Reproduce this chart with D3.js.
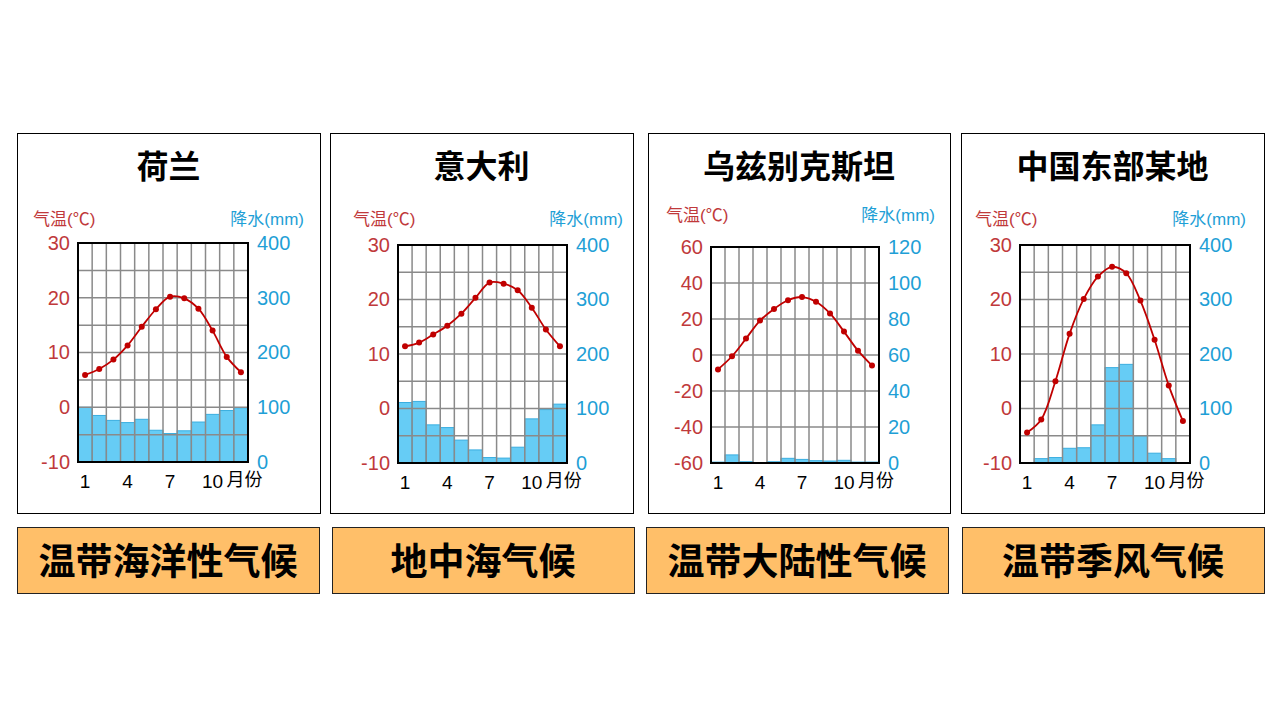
<!DOCTYPE html>
<html><head><meta charset="utf-8">
<script src="https://cdn.jsdelivr.net/npm/d3@7"></script>
<style>
html,body{margin:0;padding:0;background:#fff;}
svg{display:block;}
text{font-family:"Liberation Sans","Noto Sans CJK SC",sans-serif;}
</style></head>
<body>
<svg id="c" width="1280" height="720"></svg>
<script>
const months = [1,2,3,4,5,6,7,8,9,10,11,12];
const monthLabels = ["1","4","7","10"];
const titles = ["荷兰","意大利","乌兹别克斯坦","中国东部某地"];
const climateLabels = ["温带海洋性气候","地中海气候","温带大陆性气候","温带季风气候"];

const nlTemp = [5.9,7.0,8.7,11.3,14.7,17.9,20.2,19.9,18.0,14.0,9.2,6.4];
const nlPrecip = [100,85,76,72,78,58,52,57,73,87,94,99];
const itTemp = [11.4,12.1,13.6,15.2,17.4,20.3,23.1,22.9,21.7,18.5,14.5,11.4];
const itPrecip = [111,113,70,65,42,24,10,9,29,81,98,108];
const uzTemp = [-8,-0.7,9.1,19.1,25.6,30.4,32.2,29.6,23.1,13,2.4,-5.9];
const uzPrecip = [0.5,4.5,0.7,0,0.7,2.6,2,1.3,1.1,1.5,0.5,0.5];
const cnTemp = [-4.4,-2.0,5.0,13.7,20.1,24.2,26.0,24.8,19.8,12.6,4.2,-2.3];
const cnPrecip = [0,8,10,27,28,70,175,181,50,18,8,0];

const tempTicksA = [-10,0,10,20,30];
const tempGridA = [-10,-5,0,5,10,15,20,25,30];
const precipTicksA = [0,100,200,300,400];
const tempTicksB = [-60,-40,-20,0,20,40,60];
const precipTicksB = [0,20,40,60,80,100,120];

const svg = d3.select("#c");
const RED = "#C0393B", BLUE = "#1F9FD6", LINE = "#C00000";

const panels = [
  {box:[17,320], plot:[78,248,243,462], temp:nlTemp, precip:nlPrecip, tT:tempTicksA, tG:tempGridA, pT:precipTicksA, lab:[17,319], labY:219},
  {box:[330,633], plot:[398,567,245,463], temp:itTemp, precip:itPrecip, tT:tempTicksA, tG:tempGridA, pT:precipTicksA, lab:[332,634], labY:219},
  {box:[648,950], plot:[711,879,247,463], temp:uzTemp, precip:uzPrecip, tT:tempTicksB, tG:tempTicksB, pT:precipTicksB, lab:[646,948], labY:215},
  {box:[961,1264], plot:[1020,1190,245,463], temp:cnTemp, precip:cnPrecip, tT:tempTicksA, tG:tempGridA, pT:precipTicksA, lab:[962,1264], labY:219}
];

panels.forEach((p,i)=>{
  const g = svg.append("g");
  const [bx0,bx1] = p.box;
  g.append("rect").attr("x",bx0+0.5).attr("y",133.5).attr("width",bx1-bx0).attr("height",380)
    .attr("fill","#fff").attr("stroke","#000").attr("stroke-width",1);
  g.append("text").attr("x",(bx0+bx1)/2).attr("y",178).attr("text-anchor","middle")
    .attr("font-size",32).attr("font-weight","bold").attr("fill","#000").text(titles[i]);

  const [L,R,T,B] = p.plot;
  const x = d3.scaleBand().domain(months).range([L,R]).padding(0);
  const yT = d3.scaleLinear().domain(d3.extent(p.tT)).range([B,T]);
  const yP = d3.scaleLinear().domain(d3.extent(p.pT)).range([B,T]);

  // bars
  g.append("g").selectAll("rect").data(p.precip).join("rect")
    .attr("x",(d,j)=>x(months[j])).attr("width",x.bandwidth())
    .attr("y",d=>yP(d)).attr("height",d=>B-yP(d))
    .attr("fill","#66CCF5").attr("stroke","#3AAEE0").attr("stroke-width",1);

  // grid
  const grid = g.append("g").attr("stroke","#8a8a8a").attr("stroke-width",1.5);
  months.slice(1).forEach(m=>grid.append("line").attr("x1",x(m)).attr("x2",x(m)).attr("y1",T).attr("y2",B));
  p.tG.forEach(v=>grid.append("line").attr("x1",L).attr("x2",R).attr("y1",yT(v)).attr("y2",yT(v)));

  // frame
  g.append("rect").attr("x",L).attr("y",T).attr("width",R-L).attr("height",B-T)
    .attr("fill","none").attr("stroke","#000").attr("stroke-width",2);

  // axes
  const fmt = d=>String(d);
  const axL = d3.axisLeft(yT).tickValues(p.tT).tickFormat(fmt).tickSize(0).tickPadding(8);
  const gl = g.append("g").attr("transform",`translate(${L},0)`).call(axL);
  gl.select(".domain").remove();
  gl.selectAll("text").attr("font-size",20).attr("fill",RED).attr("font-family",null);
  const axR = d3.axisRight(yP).tickValues(p.pT).tickFormat(fmt).tickSize(0).tickPadding(9);
  const gr = g.append("g").attr("transform",`translate(${R},0)`).call(axR);
  gr.select(".domain").remove();
  gr.selectAll("text").attr("font-size",20).attr("fill",BLUE).attr("font-family",null);

  // axis titles
  g.append("text").attr("x",L-45).attr("y",p.labY+6).attr("font-size",17).attr("fill",RED).text("气温(℃)");
  g.append("text").attr("x",R+56).attr("y",p.labY+6).attr("text-anchor","end").attr("font-size",17).attr("fill",BLUE).text("降水(mm)");

  // month labels
  monthLabels.forEach(m=>{
    g.append("text").attr("x",x(+m)+x.bandwidth()/2).attr("y",B+26).attr("text-anchor","middle")
      .attr("font-size",19).attr("fill","#000").text(m);
  });
  g.append("text").attr("x",x(10)+x.bandwidth()/2+14).attr("y",B+24).attr("font-size",18).attr("fill","#000").text("月份");

  // temperature line
  const line = d3.line().x((d,j)=>x(months[j])+x.bandwidth()/2).y(d=>yT(d)).curve(d3.curveCatmullRom);
  g.append("path").datum(p.temp).attr("d",line).attr("fill","none").attr("stroke",LINE).attr("stroke-width",1.8);
  g.append("g").selectAll("circle").data(p.temp).join("circle")
    .attr("cx",(d,j)=>x(months[j])+x.bandwidth()/2).attr("cy",d=>yT(d)).attr("r",3).attr("fill",LINE);

  // climate label box
  const [lx0,lx1] = p.lab;
  g.append("rect").attr("x",lx0+0.5).attr("y",527.5).attr("width",lx1-lx0).attr("height",66)
    .attr("fill","#FFBF69").attr("stroke","#222").attr("stroke-width",1);
  g.append("text").attr("x",(lx0+lx1)/2).attr("y",575).attr("text-anchor","middle")
    .attr("font-size",37).attr("font-weight","bold").attr("fill","#000").text(climateLabels[i]);
});
</script>
</body></html>
